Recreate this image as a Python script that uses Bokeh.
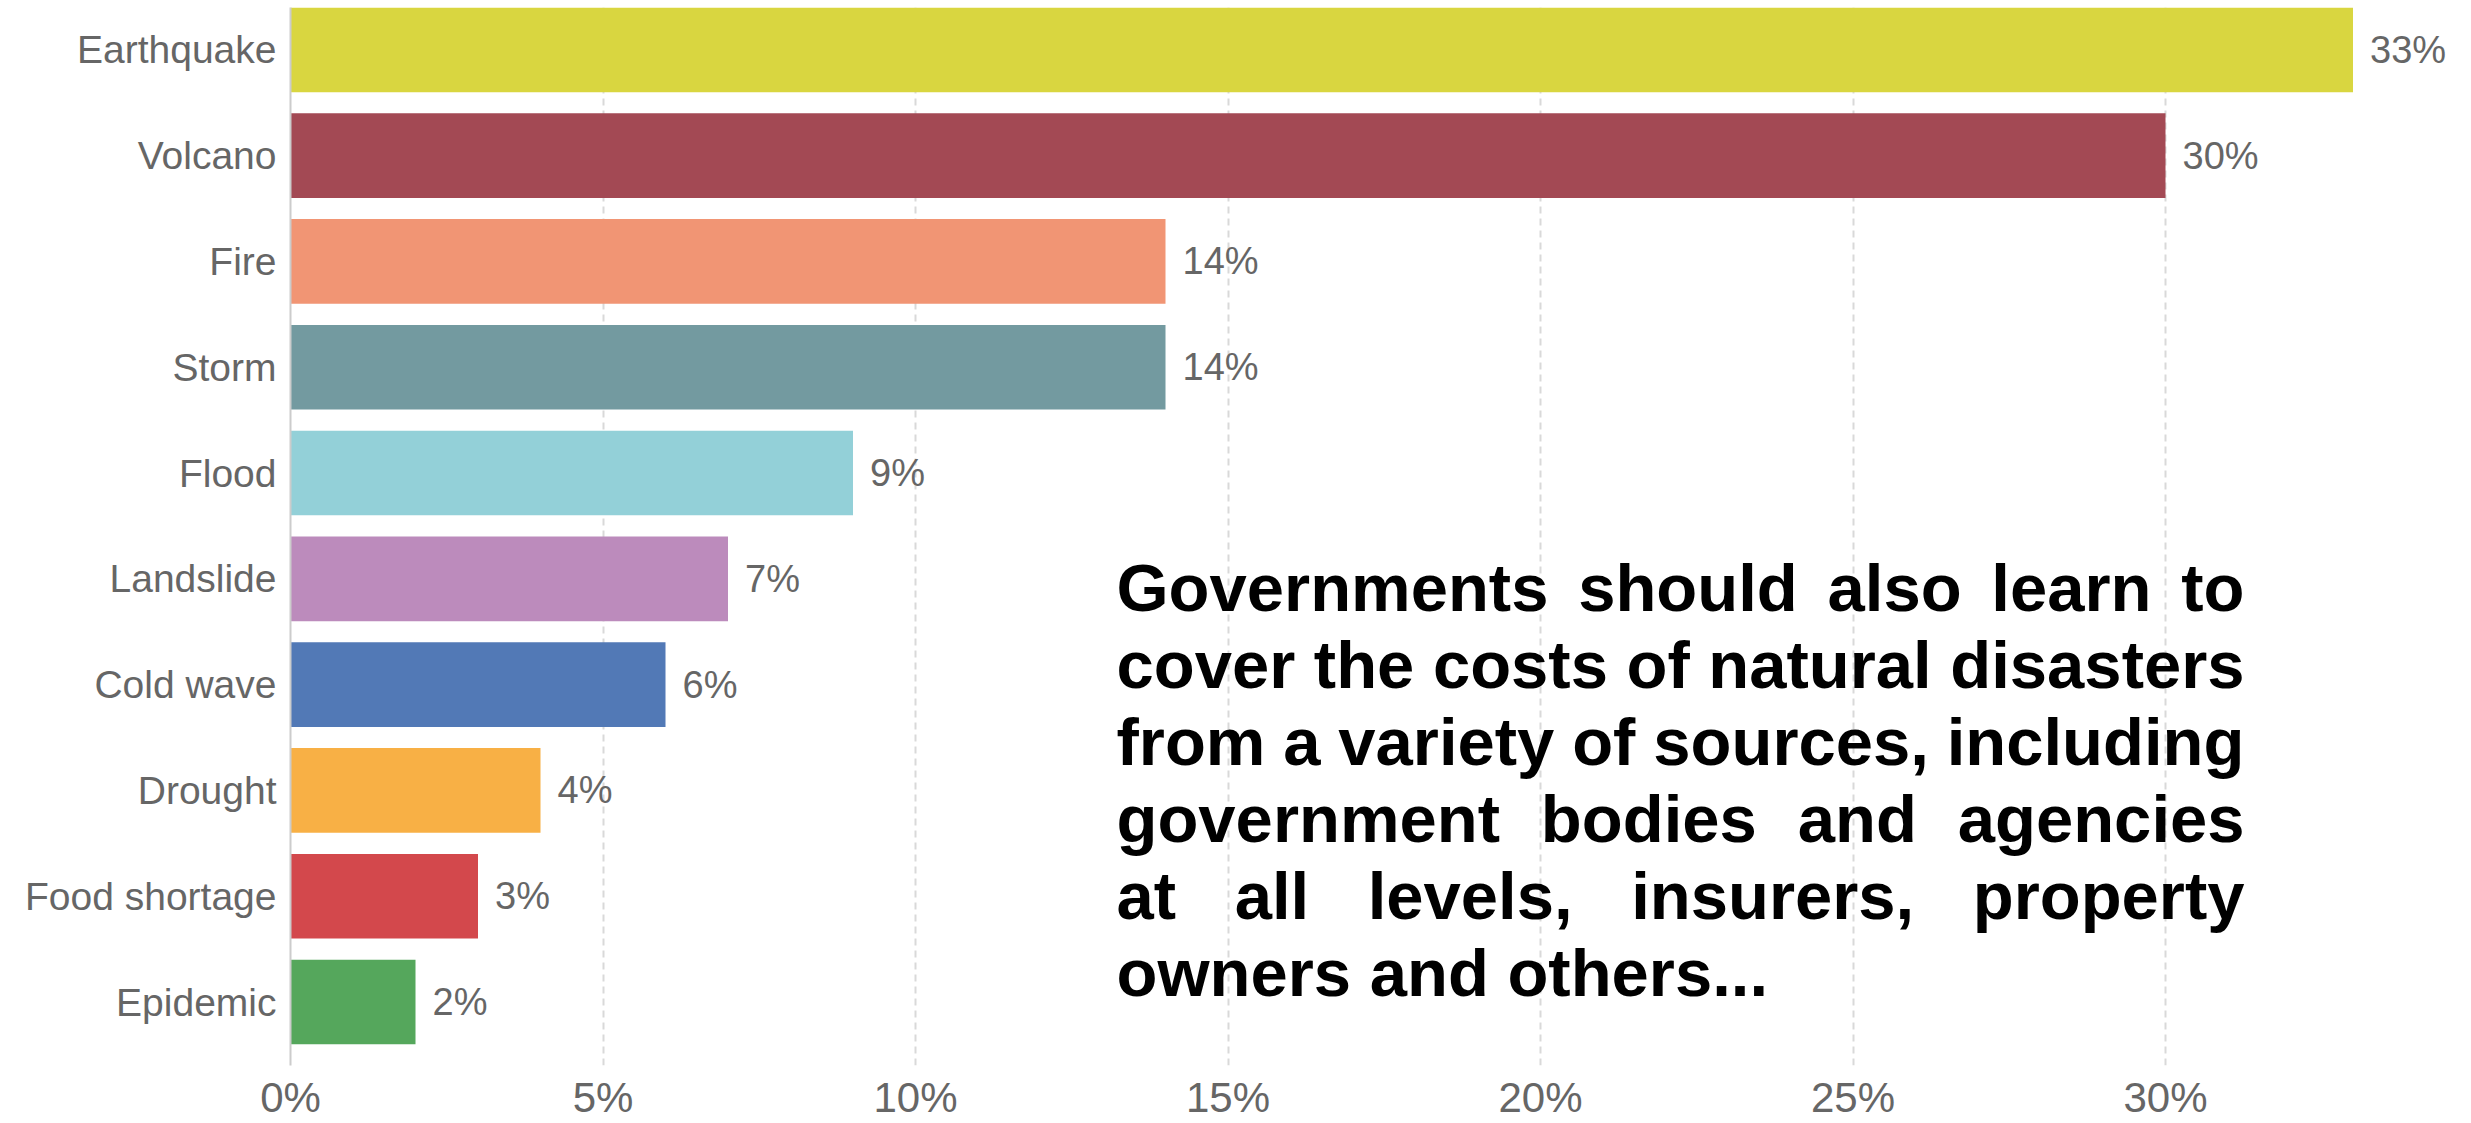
from bokeh.plotting import figure
from bokeh.models import Range1d, FixedTicker, PrintfTickFormatter, ColumnDataSource
from bokeh.core.properties import value
from bokeh.embed import file_html
from bokeh.resources import INLINE

# ---------------- data ----------------
categories = ["Earthquake", "Volcano", "Fire", "Storm", "Flood", "Landslide",
              "Cold wave", "Drought", "Food shortage", "Epidemic"]
shares = [33, 30, 14, 14, 9, 7, 6, 4, 3, 2]
colors = ["#d9d640", "#a34954", "#f19574", "#739aa0", "#93d0d8", "#bc8bbc",
          "#5279b6", "#f8b045", "#d3484c", "#55a75c"]
x_ticks = [0, 5, 10, 15, 20, 25, 30]
note_lines = ["Governments should also learn to",
              "cover the costs of natural disasters",
              "from a variety of sources, including",
              "government bodies and agencies",
              "at all levels, insurers, property",
              "owners and others..."]

# ---------------- layout ----------------
W, H = 2471, 1123
B_LEFT, B_RIGHT, B_TOP, B_BOTTOM = 290, 6, 7, 57
X_END = 34.8
frame_w = W - B_LEFT - B_RIGHT
frame_h = H - B_TOP - B_BOTTOM
px_per_x = frame_w / X_END
n = len(categories)
Y0, Y1 = 0.4, n + 0.4
px_per_y = frame_h / (Y1 - Y0)

ypos = list(range(n, 0, -1))
src = ColumnDataSource(dict(y=ypos, v=shares, c=colors,
                            lab=[f"{s}%" for s in shares]))

p = figure(width=W, height=H, output_backend="svg", toolbar_location=None,
           x_range=Range1d(0, X_END), y_range=Range1d(Y0, Y1),
           min_border_left=B_LEFT, min_border_right=B_RIGHT,
           min_border_top=B_TOP, min_border_bottom=B_BOTTOM)
p.outline_line_color = None
p.background_fill_color = "white"
p.border_fill_color = "white"

p.hbar(y="y", right="v", left=0, height=0.8, fill_color="c", line_color=None,
       source=src)

p.text(x="v", y="y", text="lab", source=src, x_offset=17,
       text_baseline="middle", text_align="left",
       text_font=value("Liberation Sans"), text_font_size="38px",
       text_color="#666666")

# grid
p.ygrid.grid_line_color = None
p.xgrid.ticker = FixedTicker(ticks=x_ticks)
p.xgrid.grid_line_color = "#d9d9d9"
p.xgrid.grid_line_width = 2
p.xgrid.grid_line_dash = "7 5"

# x axis
p.xaxis.ticker = FixedTicker(ticks=x_ticks)
p.xaxis.formatter = PrintfTickFormatter(format="%d%%")
p.xaxis.axis_line_color = None
p.xaxis.major_tick_line_color = None
p.xaxis.minor_tick_line_color = None
p.xaxis.major_tick_out = 0
p.xaxis.major_tick_in = 0
p.xaxis.major_label_standoff = 8
p.xaxis.major_label_text_font = "Liberation Sans"
p.xaxis.major_label_text_font_size = "42px"
p.xaxis.major_label_text_color = "#666666"

# y axis
p.yaxis.ticker = FixedTicker(ticks=ypos)
p.yaxis.major_label_overrides = {yv: c for yv, c in zip(ypos, categories)}
p.yaxis.axis_line_color = "#cccccc"
p.yaxis.axis_line_width = 2
p.yaxis.major_tick_line_color = None
p.yaxis.minor_tick_line_color = None
p.yaxis.major_tick_out = 0
p.yaxis.major_tick_in = 0
p.yaxis.major_label_standoff = 14
p.yaxis.major_label_text_font = "Liberation Sans"
p.yaxis.major_label_text_font_size = "39px"
p.yaxis.major_label_text_color = "#666666"

# ---------------- justified note ----------------
AW = {'a': 556, 'b': 611, 'c': 556, 'd': 611, 'e': 556, 'f': 333, 'g': 611,
      'h': 611, 'i': 278, 'j': 278, 'k': 556, 'l': 278, 'm': 889, 'n': 611,
      'o': 611, 'p': 611, 'q': 611, 'r': 389, 's': 556, 't': 333, 'u': 611,
      'v': 556, 'w': 778, 'x': 556, 'y': 556, 'z': 500, 'G': 778, ',': 278,
      '.': 278, ' ': 278}
NOTE_FS = 67
def wpx(s):
    return sum(AW.get(ch, 556) for ch in s) / 1000 * NOTE_FS

note_left_px, note_right_px = 1116, 2244
first_base_px, line_pitch_px = 588, 77
xs, ys, words = [], [], []
for i, line in enumerate(note_lines):
    base_y = Y1 - (first_base_px + i * line_pitch_px - B_TOP) / px_per_y
    ws = line.split(" ")
    widths = [wpx(w) for w in ws]
    if i < len(note_lines) - 1 and len(ws) > 1:
        gap = (note_right_px - note_left_px - sum(widths)) / (len(ws) - 1)
    else:
        gap = wpx(" ")
    cur = note_left_px
    for w, wd in zip(ws, widths):
        xs.append((cur - B_LEFT) / px_per_x)
        ys.append(base_y)
        words.append(w)
        cur += wd + gap

p.text(x=xs, y=ys, text=words, text_align="left", text_baseline="alphabetic",
       text_font=value("Liberation Sans"), text_font_style="bold",
       text_font_size=f"{NOTE_FS}px", text_color="black")

open("out.html", "w").write(file_html(p, INLINE))
